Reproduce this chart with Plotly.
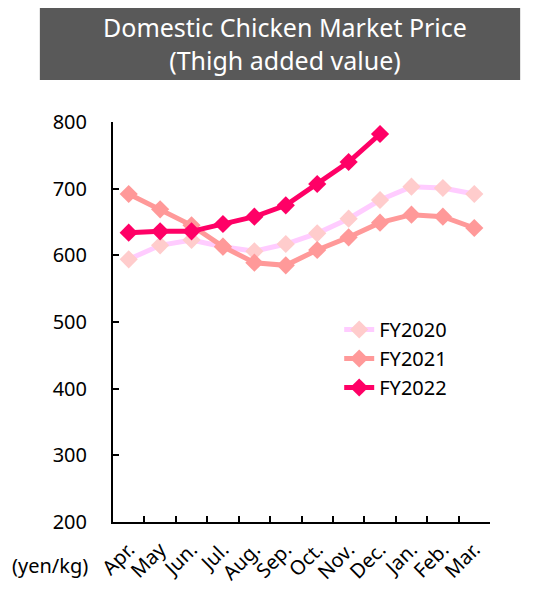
import plotly.graph_objects as go

# Month labels (fiscal year Apr-Mar)
months = ["Apr.", "May", "Jun.", "Jul.", "Aug.", "Sep.", "Oct.", "Nov.", "Dec.", "Jan.", "Feb.", "Mar."]

# Prices in yen/kg
fy2020 = [594, 615, 623, 613, 606, 617, 633, 655, 683, 703, 701, 692]
fy2021 = [692, 669, 645, 613, 589, 585, 608, 627, 649, 661, 658, 641]
fy2022 = [634, 636, 636, 647, 658, 675, 707, 740, 782]

title_lines = ["Domestic Chicken Market Price", "(Thigh added value)"]

FONT = "Noto Sans"

series = [
    ("FY2020", fy2020, "#FFCCFF", "#FFCCCC"),
    ("FY2021", fy2021, "#FF9999", "#FF9999"),
    ("FY2022", fy2022, "#FF0066", "#FF0066"),
]

fig = go.Figure()
for name, vals, line_col, mk_col in series:
    fig.add_trace(go.Scatter(
        x=months[:len(vals)], y=vals, name=name,
        mode="lines+markers",
        line=dict(color=line_col, width=5),
        marker=dict(symbol="diamond", size=14, color=mk_col),
    ))

# page has an 8px body margin, so the figure is 8px smaller than the window
fig.update_layout(
    width=530, height=583,
    margin=dict(l=105, r=48, t=114, b=69),
    plot_bgcolor="white", paper_bgcolor="white",
    font=dict(family=FONT, size=20, color="black"),
    showlegend=True,
    legend=dict(
        x=0.60, y=0.53, xanchor="left", yanchor="top",
        bgcolor="rgba(0,0,0,0)", font=dict(size=20),
        tracegroupgap=0,
    ),
    xaxis=dict(
        type="category", categoryorder="array", categoryarray=months,
        range=[-0.5, 11.5], automargin=False,
        showline=True, linecolor="black", linewidth=2,
        ticks="inside", ticklen=6, tickcolor="black", tickwidth=2,
        tickson="boundaries", tickangle=-45, showgrid=False,
        ticklabelstandoff=6,
        tickfont=dict(size=20),
    ),
    yaxis=dict(
        range=[200, 800], dtick=100, automargin=False,
        showline=True, linecolor="black", linewidth=2,
        ticks="inside", ticklen=6, tickcolor="black", tickwidth=2,
        showgrid=False, zeroline=False,
        ticklabelstandoff=20,
        tickfont=dict(size=20),
    ),
    # title in a dark grey box above the plot
    shapes=[dict(
        type="rect", xref="paper", yref="paper",
        x0=-0.194, x1=1.08, y0=1.105, y1=1.297,
        fillcolor="#595959", line=dict(width=0), layer="below",
    )],
    annotations=[
        dict(
            text="<br>".join(title_lines),
            xref="paper", yref="paper", x=0.455, y=1.1975,
            xanchor="center", yanchor="middle",
            showarrow=False, align="center",
            font=dict(family=FONT, size=25, color="white"),
        ),
        dict(
            text="(yen/kg)", xref="paper", yref="paper",
            x=-0.167, y=-0.1075, xanchor="center", yanchor="middle",
            showarrow=False, font=dict(family=FONT, size=20),
        ),
    ],
)

fig.write_html("out.html")
